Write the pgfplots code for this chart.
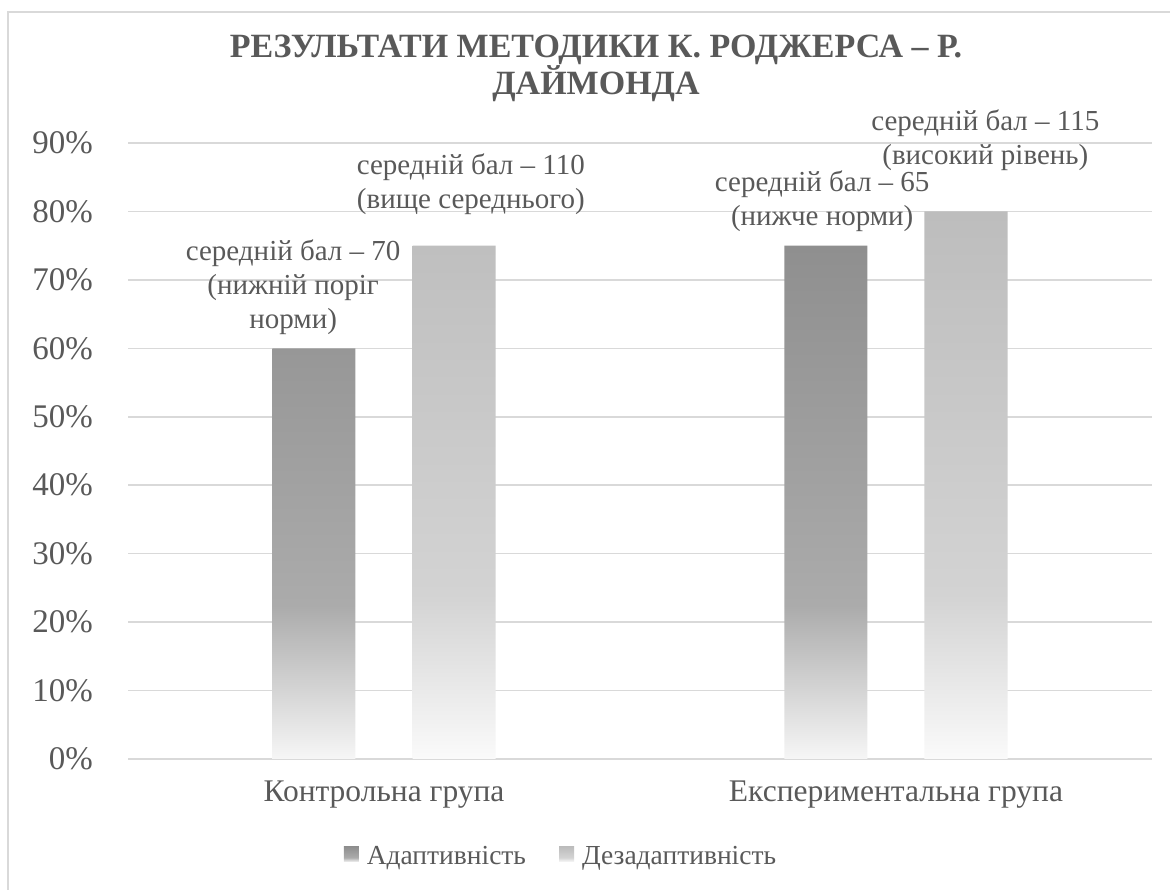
\documentclass[border=0pt]{standalone}
\usepackage{fontspec}
\setmainfont{Liberation Serif}
\usepackage{pgfplots}
\pgfplotsset{compat=1.18}
\definecolor{txt}{HTML}{595959}
\definecolor{gridc}{HTML}{D9D9D9}
\definecolor{a0}{HTML}{F6F6F6}
\definecolor{a1}{HTML}{ABABAB}
\definecolor{a2}{HTML}{8F8F8F}
\definecolor{b0}{HTML}{FAFAFA}
\definecolor{b1}{HTML}{D3D3D3}
\definecolor{b2}{HTML}{BDBDBD}
\pgfdeclareverticalshading{shA}{100bp}{color(0bp)=(a0); color(25bp)=(a0); color(40bp)=(a1); color(75bp)=(a2); color(100bp)=(a2)}
\pgfdeclareverticalshading{shB}{100bp}{color(0bp)=(b0); color(25bp)=(b0); color(40bp)=(b1); color(75bp)=(b2); color(100bp)=(b2)}
\begin{document}
\begin{tikzpicture}[x=1pt,y=1pt]
\useasboundingbox (0,0) rectangle (1170,890);
\draw[gridc, line width=1.5pt] (8,0) -- (8,878) -- (1170,878);
\node[font=\bfseries\fontsize{34}{35}\selectfont, text=txt, align=center, anchor=base, inner sep=0pt] at (596,795)
  {РЕЗУЛЬТАТИ МЕТОДИКИ К. РОДЖЕРСА – Р.\\ДАЙМОНДА};
\begin{axis}[
  at={(128pt,131pt)}, anchor=south west, scale only axis,
  width=1024pt, height=616pt,
  xmin=-0.5, xmax=1.5, ymin=0, ymax=90,
  ytick={0,10,...,90},
  xtick={0,1}, xticklabels={Контрольна група, Експериментальна група},
  axis x line*=bottom, axis y line*=left,
  x axis line style={draw=gridc, line width=1.5pt, -},
  y axis line style={draw=none},
  major tick length=0pt,
  ymajorgrids, grid style={draw=gridc, line width=1.5pt},
  /pgf/number format/assume math mode=true,
  yticklabel={\pgfmathprintnumber{\tick}\%},
  yticklabel style={font=\fontsize{33}{33}\selectfont, text=txt, anchor=east, inner sep=0pt, xshift=-35pt},
  xticklabel style={font=\fontsize{31.5}{31.5}\selectfont, text=txt, anchor=north, inner sep=0pt, yshift=-22pt},
  ybar, bar width=83pt,
  legend style={at={(0.4228,0)}, anchor=center, yshift=-97pt, draw=none, fill=none,
    font=\fontsize{27.5}{27.5}\selectfont, text=txt,
    /tikz/every even column/.append style={column sep=31pt}},
  legend columns=2,
  legend image code/.code={\path (0pt,0pt) -- (21pt,0pt); \path[#1, draw=none] (0pt,-6pt) rectangle (15pt,9pt);},
  clip=false,
]
\addplot[draw=none, shade, shading=shA, bar shift=-70pt] coordinates {(0,60) (1,75)};
\addplot[draw=none, shade, shading=shB, bar shift=70pt] coordinates {(0,75) (1,80)};
\legend{Адаптивність, Дезадаптивність}
\begin{scope}[every node/.style={font=\fontsize{29}{34}\selectfont, text=txt, align=center, inner sep=0pt, anchor=base}]
\node at (axis cs:-0.1775,62.97) {середній бал – 70\\(нижній поріг\\норми)};
\node at (axis cs:0.1696,80.5) {середній бал – 110\\(вище середнього)};
\node at (axis cs:0.8559,78.0) {середній бал – 65\\(нижче норми)};
\node at (axis cs:1.1745,86.8) {середній бал – 115\\(високий рівень)};
\end{scope}
\end{axis}
\end{tikzpicture}
\end{document}
